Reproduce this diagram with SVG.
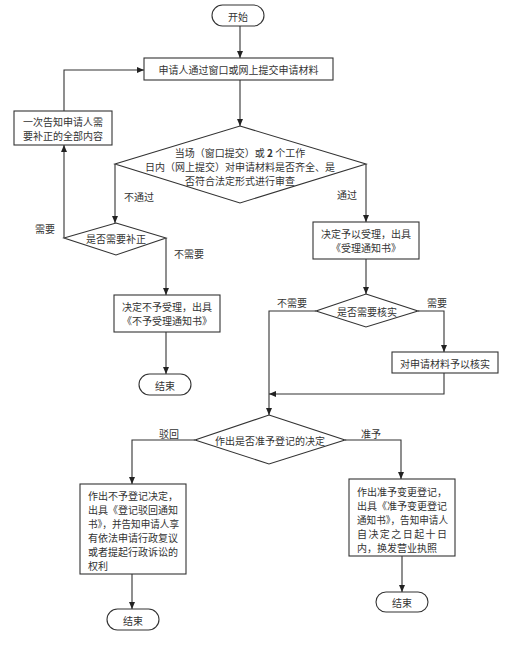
<svg xmlns="http://www.w3.org/2000/svg" width="520" height="648" viewBox="0 0 520 648">
<style>
.s{fill:#fff;stroke:#333;stroke-width:1.1}
.c{fill:none;stroke:#333;stroke-width:1.1}
text{font-family:"Noto Sans CJK SC","Noto Sans CJK JP",sans-serif;font-size:10px;fill:#333}
.m{text-anchor:middle;dominant-baseline:central}
.l{dominant-baseline:central}
</style>
<defs>
<marker id="a" markerUnits="userSpaceOnUse" markerWidth="7" markerHeight="6" refX="7" refY="3" orient="auto">
<path d="M0,0 L7,3 L0,6 z" fill="#222"/>
</marker>
</defs>
<rect width="520" height="648" fill="#fff"/>
<g id="connectors">
<path class="c" d="M240,26 V58" marker-end="url(#a)"/>
<path class="c" d="M240,80 V126" marker-end="url(#a)"/>
<path class="c" d="M115,164 V223" marker-end="url(#a)"/>
<path class="c" d="M64,238 V145" marker-end="url(#a)"/>
<path class="c" d="M64,111 V70 H144" marker-end="url(#a)"/>
<path class="c" d="M166,238 V295" marker-end="url(#a)"/>
<path class="c" d="M166,332 V374" marker-end="url(#a)"/>
<path class="c" d="M366,164 V222" marker-end="url(#a)"/>
<path class="c" d="M366,259 V294" marker-end="url(#a)"/>
<path class="c" d="M418,311 H444 V352" marker-end="url(#a)"/>
<path class="c" d="M444,373 V394 H269" marker-end="url(#a)"/>
<path class="c" d="M316,311 H269 V415" marker-end="url(#a)"/>
<path class="c" d="M195,440 H132 V484" marker-end="url(#a)"/>
<path class="c" d="M132,574 V609" marker-end="url(#a)"/>
<path class="c" d="M345,440 H401 V479" marker-end="url(#a)"/>
<path class="c" d="M402,556 V592" marker-end="url(#a)"/>
<text class="m" x="139" y="196">不通过</text>
<text class="m" x="347" y="194">通过</text>
<text class="m" x="45" y="228">需要</text>
<text class="m" x="189" y="253">不需要</text>
<text class="m" x="292" y="302">不需要</text>
<text class="m" x="437" y="302">需要</text>
<text class="m" x="169" y="433">驳回</text>
<text class="m" x="371" y="433">准予</text>
</g>
<g id="start">
<rect class="s" x="212" y="5" width="52" height="21" rx="10.5"/>
<text class="m" x="238" y="16">开始</text>
</g>
<g id="submit">
<rect class="s" x="144" y="58" width="189" height="22"/>
<text class="m" x="238.5" y="69.5">申请人通过窗口或网上提交申请材料</text>
</g>
<g id="review">
<polygon class="s" points="240,126 366,164 240,203 115,164"/>
<text class="m" x="240" y="152">当场（窗口提交）或 <tspan font-weight="bold">2</tspan> 个工作</text>
<text class="m" x="240" y="166">日内（网上提交）对申请材料是否齐全、是</text>
<text class="m" x="240" y="180">否符合法定形式进行审查</text>
</g>
<g id="notify">
<rect class="s" x="14" y="111" width="98" height="34"/>
<text class="m" x="63" y="121">一次告知申请人需</text>
<text class="m" x="63" y="135">要补正的全部内容</text>
</g>
<g id="needfix">
<polygon class="s" points="116,223 166,238 116,255 64,238"/>
<text class="m" x="116" y="238.5">是否需要补正</text>
</g>
<g id="reject">
<rect class="s" x="114" y="295" width="106" height="37"/>
<text class="m" x="167" y="306.5">决定不予受理，出具</text>
<text class="m" x="167" y="320.5">《不予受理通知书》</text>
</g>
<g id="end1">
<rect class="s" x="139" y="374" width="52" height="21" rx="10.5"/>
<text class="m" x="165" y="385">结束</text>
</g>
<g id="accept">
<rect class="s" x="313" y="222" width="106" height="37"/>
<text class="m" x="366" y="233">决定予以受理，出具</text>
<text class="m" x="366" y="247">《受理通知书》</text>
</g>
<g id="needverify">
<polygon class="s" points="366,294 418,311 366,327 316,311"/>
<text class="m" x="367" y="311">是否需要核实</text>
</g>
<g id="verify">
<rect class="s" x="392" y="352" width="106" height="21"/>
<text class="m" x="445" y="363">对申请材料予以核实</text>
</g>
<g id="decide">
<polygon class="s" points="269,415 345,440 269,464 195,440"/>
<text class="m" x="270" y="440">作出是否准予登记的决定</text>
</g>
<g id="deny">
<rect class="s" x="80" y="484" width="106" height="90"/>
<text class="l" x="88" y="495">作出不予登记决定，</text>
<text class="l" x="88" y="509">出具《登记驳回通知</text>
<text class="l" x="88" y="523" textLength="91" lengthAdjust="spacingAndGlyphs">书》，并告知申请人享</text>
<text class="l" x="88" y="537">有依法申请行政复议</text>
<text class="l" x="88" y="551">或者提起行政诉讼的</text>
<text class="l" x="88" y="565">权利</text>
</g>
<g id="end2">
<rect class="s" x="107" y="609" width="52" height="21" rx="10.5"/>
<text class="m" x="133" y="620">结束</text>
</g>
<g id="approve">
<rect class="s" x="349" y="479" width="106" height="77"/>
<text class="l" x="357" y="491">作出准予变更登记，</text>
<text class="l" x="357" y="505">出具《准予变更登记</text>
<text class="l" x="357" y="519" textLength="91" lengthAdjust="spacingAndGlyphs">通知书》，告知申请人</text>
<text class="l" x="357" y="533" textLength="90" lengthAdjust="spacing">自决定之日起十日</text>
<text class="l" x="357" y="547">内，换发营业执照</text>
</g>
<g id="end3">
<rect class="s" x="376" y="592" width="52" height="20" rx="10"/>
<text class="m" x="402" y="602">结束</text>
</g>
</svg>
